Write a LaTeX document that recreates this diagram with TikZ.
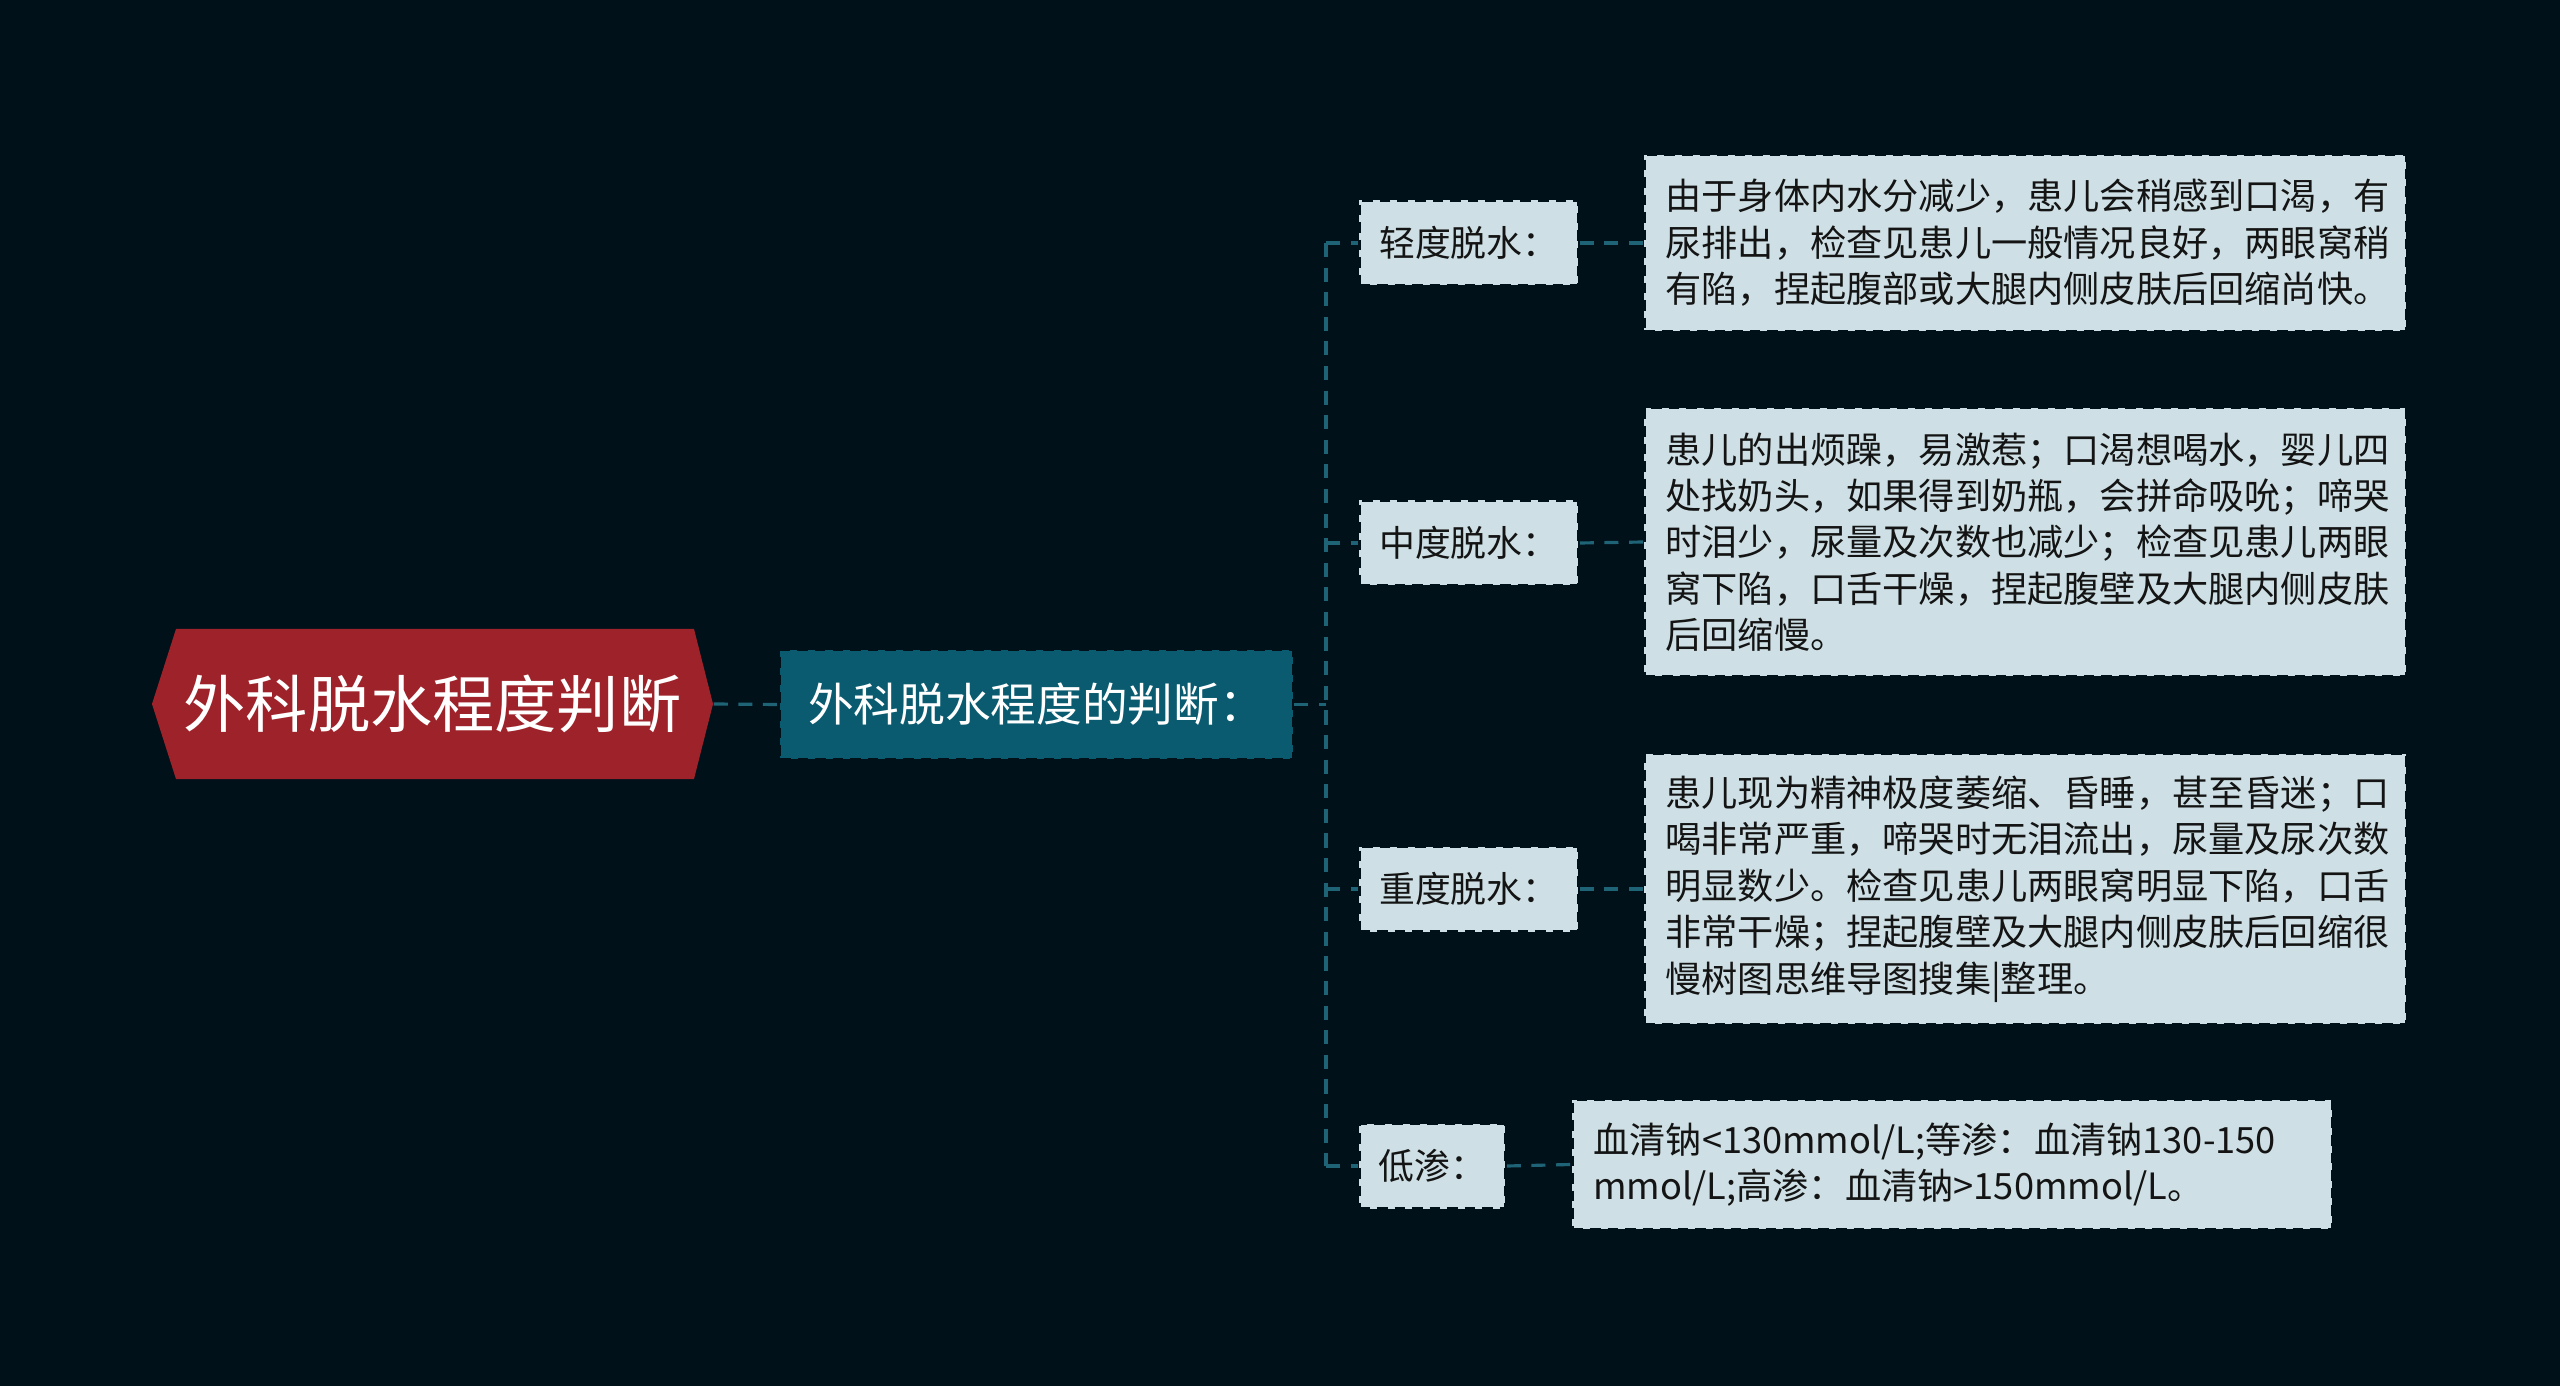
\documentclass[tikz,border=0pt]{standalone}
\usepackage{fontspec}
\setmainfont{Noto Sans CJK SC}
\definecolor{bgdark}{HTML}{01111A}
\definecolor{rootred}{HTML}{9E2229}
\definecolor{mainteal}{HTML}{0A5B6F}
\definecolor{boxlight}{HTML}{CEE0E5}
\definecolor{linkteal}{HTML}{1F6476}
\definecolor{textdark}{HTML}{141414}
\tikzset{
  link/.style={draw=linkteal, line width=0.9pt, dash pattern=on 4pt off 3pt},
  mainbox/.style={fill=mainteal, draw=bgdark, line width=0.8pt, dash pattern=on 3pt off 2pt,
    text=white, font=\fontsize{13}{16}\selectfont, minimum width=5.13cm, minimum height=1.09cm},
  degree/.style={fill=boxlight, draw=bgdark, line width=0.8pt, dash pattern=on 3pt off 2pt,
    text=textdark, font=\fontsize{10.2}{13.2}\selectfont, minimum height=0.85cm, anchor=west},
  detail/.style={fill=boxlight, draw=bgdark, line width=0.8pt, dash pattern=on 3pt off 2pt,
    text=textdark, font=\fontsize{10.3}{13.2}\selectfont, align=left, inner xsep=0.21cm, anchor=west}
}

\begin{document}
\begin{tikzpicture}[y=-1cm]

\path[fill=bgdark] (0,0) rectangle (25.6,13.86);
\useasboundingbox (0,0) rectangle (25.6,13.86);

\coordinate(Ra) at (1.52,7.04);
\coordinate(Rb) at (1.76,6.29);
\coordinate(Rc) at (6.94,6.29);
\coordinate(Rd) at (7.13,7.04);
\coordinate(Re) at (6.94,7.79);
\coordinate(Rf) at (1.76,7.79);

\path[fill=rootred]
  (Ra) to (Rb) to (Rc) to (Rd) to (Re) to (Rf) to cycle;

\node[text=white, font=\fontsize{17.7}{21}\selectfont, inner sep=0,
  minimum width=5.61cm, minimum height=1.5cm] (root) at (4.325,7.04) {外科脱水程度判断};

\node[mainbox] (main) at (10.365,7.045) {外科脱水程度的判断：};

\node[degree, minimum width=2.19cm] (mild) at (13.58,2.43) {轻度脱水：};
\node[degree, minimum width=2.19cm] (moderate) at (13.58,5.43) {中度脱水：};
\node[degree, minimum width=2.19cm] (severe) at (13.58,8.89) {重度脱水：};
\node[degree, minimum width=1.46cm] (hypo) at (13.58,11.66) {低渗：};

\node[detail, text width=7.2cm, minimum height=1.76cm] (mildtext) at (16.43,2.43)
  {由于身体内水分减少，患儿会稍感到口渴，有\\
   尿排出，检查见患儿一般情况良好，两眼窝稍\\
   有陷，捏起腹部或大腿内侧皮肤后回缩尚快。};
\node[detail, text width=7.2cm, minimum height=2.68cm] (moderatetext) at (16.43,5.42)
  {患儿的出烦躁，易激惹；口渴想喝水，婴儿四\\
   处找奶头，如果得到奶瓶，会拼命吸吮；啼哭\\
   时泪少，尿量及次数也减少；检查见患儿两眼\\
   窝下陷，口舌干燥，捏起腹壁及大腿内侧皮肤\\
   后回缩慢。};
\node[detail, text width=7.2cm, minimum height=2.70cm] (severetext) at (16.43,8.89)
  {患儿现为精神极度萎缩、昏睡，甚至昏迷；口\\
   喝非常严重，啼哭时无泪流出，尿量及尿次数\\
   明显数少。检查见患儿两眼窝明显下陷，口舌\\
   非常干燥；捏起腹壁及大腿内侧皮肤后回缩很\\
   慢树图思维导图搜集|整理。};
\node[detail, text width=7.18cm, minimum height=1.29cm] (hypotext) at (15.71,11.645)
  {血清钠<130mmol/L;等渗：血清钠130-150\\
   mmol/L;高渗：血清钠>150mmol/L。};

\coordinate(busTop) at (13.26,2.43);
\coordinate(busBot) at (13.26,11.66);

\draw[link] (root.east) to (main.west);
\draw[link] (main.east) to (main.east -| busTop);
\draw[link] (busTop) to (busBot);

\draw[link] (mild.west -| busTop) to (mild.west);
\draw[link] (moderate.west -| busTop) to (moderate.west);
\draw[link] (severe.west -| busTop) to (severe.west);
\draw[link] (hypo.west -| busTop) to (hypo.west);

\draw[link] (mild.east) to (mildtext.west);
\draw[link] (moderate.east) to (moderatetext.west);
\draw[link] (severe.east) to (severetext.west);
\draw[link] (hypo.east) to (hypotext.west);

\end{tikzpicture}
\end{document}
